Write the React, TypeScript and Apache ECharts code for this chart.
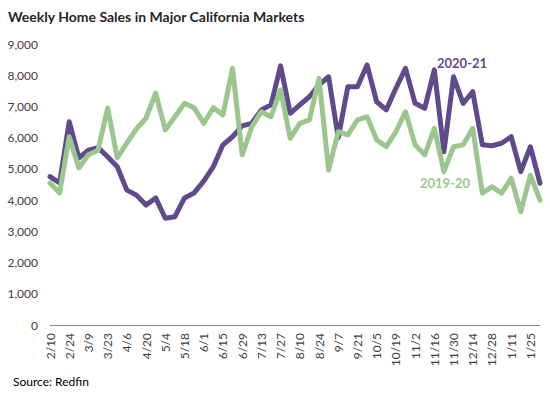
import React, { useEffect, useRef } from "react";
import * as echarts from "echarts";

const categories = [
  "2/10", "2/17", "2/24", "3/2", "3/9", "3/16", "3/23", "3/30", "4/6", "4/13",
  "4/20", "4/27", "5/4", "5/11", "5/18", "5/25", "6/1", "6/8", "6/15", "6/22",
  "6/29", "7/6", "7/13", "7/20", "7/27", "8/3", "8/10", "8/17", "8/24", "8/31",
  "9/7", "9/14", "9/21", "9/28", "10/5", "10/12", "10/19", "10/26", "11/2", "11/9",
  "11/16", "11/23", "11/30", "12/7", "12/14", "12/21", "12/28", "1/4", "1/11", "1/18",
  "1/25", "2/1",
];

const sales2020_21 = [
  4750, 4550, 6510, 5350, 5600, 5680, 5390, 5070, 4320, 4160,
  3840, 4070, 3420, 3470, 4070, 4230, 4610, 5070, 5770, 6030,
  6380, 6460, 6890, 7050, 8300, 6780, 7050, 7310, 7690, 7950,
  6000, 7630, 7630, 8330, 7150, 6890, 7580, 8220, 7100, 6940,
  8170, 5550, 7950, 7100, 7470, 5770, 5740, 5820, 6030, 4910,
  5710, 4540,
];

const sales2019_20 = [
  4550, 4230, 6030, 5030, 5450, 5600, 6950, 5350, 5830, 6280,
  6630, 7430, 6250, 6670, 7100, 6960, 6460, 6960, 6730, 8220,
  5450, 6350, 6830, 6670, 7530, 5980, 6460, 6570, 7900, 4960,
  6190, 6090, 6570, 6670, 5930, 5710, 6190, 6830, 5770, 5450,
  6300, 4910, 5710, 5770, 6300, 4220, 4430, 4220, 4700, 3630,
  4800, 4000,
];

const PURPLE = "#5f4a8b";
const GREEN = "#9bc78e";
const FONT = "Lato, 'Open Sans', sans-serif";

export default function App() {
  const ref = useRef<HTMLDivElement>(null);
  useEffect(() => {
    if (!ref.current) return;
    const chart = echarts.init(ref.current, null, { renderer: "svg" });
    chart.setOption({
      animation: false,
      backgroundColor: "#ffffff",
      textStyle: { fontFamily: FONT },
      grid: { left: 50, right: 10, top: 44, bottom: 72, containLabel: false },
      xAxis: {
        type: "category",
        data: categories,
        boundaryGap: false,
        axisLine: { lineStyle: { color: "#8c8c8c", width: 1 } },
        axisTick: { show: false },
        axisLabel: {
          interval: 1,
          rotate: 90,
          color: "#404040",
          fontSize: 12,
          fontFamily: FONT,
          margin: 8,
        },
      },
      yAxis: {
        type: "value",
        min: 0,
        max: 9000,
        interval: 1000,
        splitLine: { show: false },
        axisLine: { show: false },
        axisTick: { show: false },
        axisLabel: {
          color: "#404040",
          fontSize: 12,
          fontFamily: FONT,
          margin: 12,
          formatter: (v: number) => v.toLocaleString("en-US"),
        },
      },
      series: [
        {
          name: "2020-21",
          type: "line",
          data: sales2020_21,
          symbol: "none",
          lineStyle: { color: PURPLE, width: 5, join: "round", cap: "round" },
          itemStyle: { color: PURPLE },
        },
        {
          name: "2019-20",
          type: "line",
          data: sales2019_20,
          symbol: "none",
          lineStyle: { color: GREEN, width: 5, join: "round", cap: "round" },
          itemStyle: { color: GREEN },
        },
      ],
      graphic: [
        {
          type: "text",
          left: 8,
          top: 9,
          style: {
            text: "Weekly Home Sales in Major California Markets",
            fontSize: 14,
            fontWeight: "bold",
            fill: "#262626",
            fontFamily: FONT,
          },
        },
        {
          type: "text",
          left: 437,
          top: 56,
          style: {
            text: "2020-21",
            fontSize: 13,
            fontWeight: "bold",
            fill: PURPLE,
            fontFamily: FONT,
          },
        },
        {
          type: "text",
          left: 420,
          top: 176,
          style: {
            text: "2019-20",
            fontSize: 13,
            fontWeight: "bold",
            fill: GREEN,
            fontFamily: FONT,
          },
        },
        {
          type: "text",
          left: 13,
          top: 375,
          style: {
            text: "Source: Redfin",
            fontSize: 12,
            fill: "#000000",
            fontFamily: FONT,
          },
        },
      ],
    });
    return () => chart.dispose();
  }, []);
  return <div ref={ref} style={{ width: 550, height: 397, position: "absolute", left: 0, top: 0 }} />;
}
